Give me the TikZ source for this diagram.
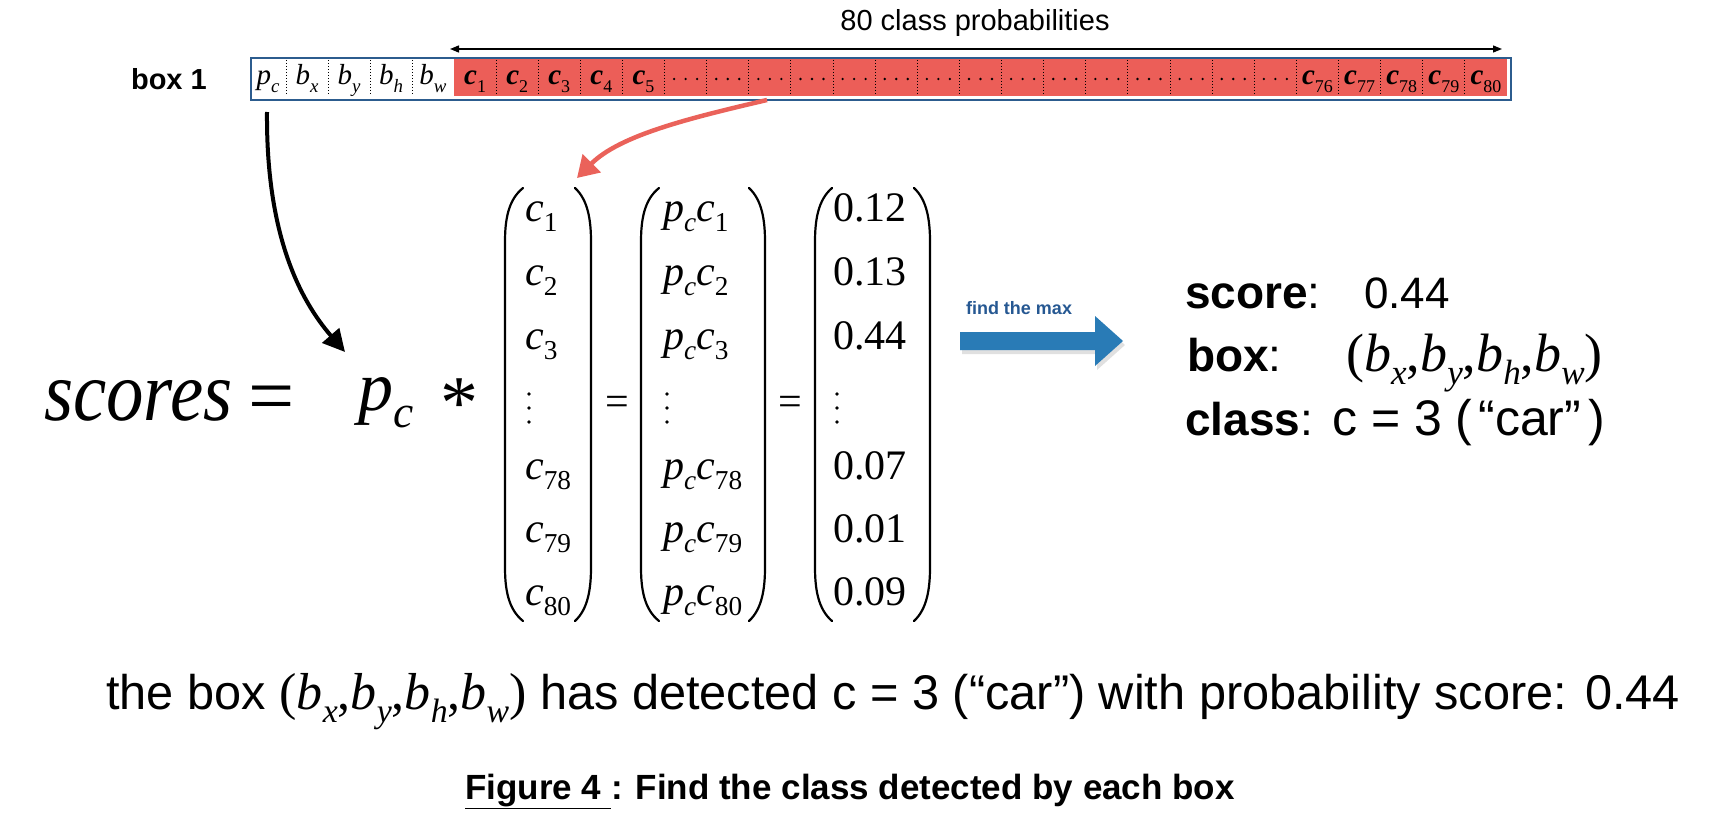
\documentclass[tikz,border=0pt]{standalone}
\usepackage{fontspec}
\setmainfont{Liberation Serif}
\setsansfont{Liberation Sans}
\newfontfamily\hv{Liberation Sans}
\usetikzlibrary{arrows.meta}
\definecolor{cellred}{RGB}{236,94,88}
\definecolor{barblue}{RGB}{44,92,142}
\definecolor{arrowred}{RGB}{234,98,90}
\definecolor{maxblue}{RGB}{41,123,182}
\definecolor{txtblue}{RGB}{38,88,146}
\newcommand{\fs}[1]{\fontsize{#1}{#1}\selectfont}
\newcommand{\Iv}[2]{\textit{#1}\raisebox{-0.25em}{\scalebox{0.65}{\textit{#2}}}}
\newcommand{\Nv}[2]{\textit{#1}\raisebox{-0.25em}{\scalebox{0.65}{#2}}}
\newcommand{\LPar}[2]{\draw[parenline] (#2,188) .. controls ({#1+3},200) and (#1,220) .. (#1,242) -- (#1,567) .. controls (#1,589) and ({#1+3},609) .. (#2,621);}
\newcommand{\RPar}[2]{\draw[parenline] (#2,188) .. controls ({#1-3},200) and (#1,220) .. (#1,242) -- (#1,567) .. controls (#1,589) and ({#1-3},609) .. (#2,621);}
\begin{document}
\begin{tikzpicture}[x=1pt,y=-1pt,
  cell/.style={minimum width=42pt,minimum height=36pt,inner sep=0pt,text height=20pt,text depth=6pt,font=\fs{29}},
  ent/.style={anchor=base west,inner sep=0pt,font=\fs{42}},
  lab/.style={anchor=base west,inner sep=0pt},
  parenline/.style={line width=2.2pt,line cap=round},
  divider/.style={line width=1pt,dash pattern=on 1.5pt off 1.5pt},
  blk/.style={line width=4pt,-{Triangle[length=22pt,width=22pt]}},
  redarr/.style={draw=arrowred,line width=4.5pt,-{Triangle[length=21pt,width=25pt]}},
  dbl/.style={line width=1.3pt,{Triangle[length=9pt,width=7pt]}-{Triangle[length=9pt,width=7pt]}}]
\useasboundingbox (0,0) rectangle (1715,832);

% ---- top bar ----
\node[anchor=base] (title) at (975,31) {\hv\fs{29}80 class probabilities};
\coordinate (pl) at (450,49);
\coordinate (pr) at (1502,49);
\draw[dbl] (pl) -- (pr);
\node[anchor=base east,inner sep=0pt] (box1) at (207,90) {\hv\bfseries\fs{29}box 1};

\fill[cellred] (454,59.5) rectangle (1507,96.5);
\node[draw=barblue,line width=2pt,minimum width=1260pt,minimum height=42pt,inner sep=0pt,anchor=north west] (bar) at (249.5,57) {};

\node[cell,minimum width=36pt] (cpc) at (268,78) {\Iv{p}{c}};
\node[cell] (cbx) at (307,78) {\Iv{b}{x}};
\node[cell] (cby) at (349,78) {\Iv{b}{y}};
\node[cell] (cbh) at (391,78) {\Iv{b}{h}};
\node[cell] (cbw) at (433,78) {\Iv{b}{w}};
\foreach \x in {286,328,370,412} \draw[divider] (\x,60) -- (\x,96);
\foreach \k in {1,...,24} \draw[divider] ({454+42.12*\k},60) -- ({454+42.12*\k},96);
\foreach \k/\n in {1/1,2/2,3/3,4/4,5/5,21/76,22/77,23/78,24/79,25/80}
  \node[cell] (cc\k) at ({454+42.12*(\k-0.5)},78) {\bfseries\itshape c\raisebox{-0.25em}{\scalebox{0.62}{\mdseries\upshape\n}}};
\foreach \k in {6,...,20} {
  \node[cell] (cc\k) at ({454+42.12*(\k-0.5)},78) {};
  \foreach \d in {-11.5,0,11.5} \fill ({454+42.12*(\k-0.5)+\d},79) circle (1.3pt);
}

% ---- connectors from the bar ----
\coordinate (rs) at (767,100);
\coordinate (re) at (577,178);
\draw[redarr] (rs) .. controls (690,118) and (620,135) .. (re);
\coordinate (bs) at (267,112);
\coordinate (be) at (345,352);
\draw[blk] (bs) .. controls (266,235) and (300,300) .. (be);

% ---- equation ----
\node[lab] (scores) at (44,420) {\scalebox{0.88}[1]{\fs{85}\itshape scores}};
\node[anchor=base,inner sep=0pt] (eq0) at (272,423) {\fs{82}=};
\node[lab] (pc) at (358,410) {\fs{70}\Iv{p}{c}};
\node[anchor=base,inner sep=0pt] (star) at (459,428) {\fs{76}*};

\LPar{505}{523}
\RPar{591}{575}
\LPar{641}{659}
\RPar{765}{749}
\LPar{815}{832}
\RPar{930}{914}

\foreach \b/\k [count=\i] in {221/1,285/2,349/3,479/78,542/79,605/80} {
  \node[ent] (ma\i) at (525,\b) {\Nv{c}{\k}};
  \node[ent] (mb\i) at (663,\b) {\Iv{p}{c}\Nv{c}{\k}};
}
\foreach \b/\v [count=\i] in {221/0.12,285/0.13,349/0.44,479/0.07,542/0.01,605/0.09}
  \node[ent] (mc\i) at (833,\b) {\v};
\foreach \x in {529,667,837} \foreach \y in {394,408,422} \fill (\x,\y) circle (1.8pt);

\node[anchor=base,inner sep=0pt] (eq1) at (617,415) {\fs{42}=};
\node[anchor=base,inner sep=0pt] (eq2) at (790,415) {\fs{42}=};

% ---- find the max ----
\node[anchor=base,text=txtblue,inner sep=0pt] (maxlbl) at (1019,314) {\hv\bfseries\fs{18}find the max};
\coordinate (ma) at (960,341);
\coordinate (mz) at (1123,341);
\fill[black,opacity=0.12] ([shift={(2,4)}]ma) ++(0,-9) -- ++(135,0) -- ++(0,-16) -- ++(28,25) -- ++(-28,25) -- ++(0,-16) -- ++(-135,0) -- cycle;
\fill[maxblue] (ma) ++(0,-9) -- ++(135,0) -- ++(0,-16) -- (mz) -- ++(-28,25) -- ++(0,-16) -- ++(-135,0) -- cycle;

% ---- result ----
\node[lab] (lscore) at (1185,308) {\hv\fs{46}\textbf{score}:};
\node[lab] (vscore) at (1364,308) {\hv\fs{44}0.44};
\node[lab] (lbox) at (1187,371) {\hv\fs{46}\textbf{box}:};
\node[lab] (vbox) at (1346,371) {\fs{54}(\Iv{b}{x},\Iv{b}{y},\Iv{b}{h},\Iv{b}{w})};
\node[lab] (lclass) at (1185,435) {\hv\fs{46}\textbf{class}:};
\node[lab] (vclass) at (1332,435) {\hv\fs{50}c = 3 (\kern6pt“car”\kern7pt)};

% ---- sentence and caption ----
\node[lab] (sent) at (106,709) {\hv\fs{48.7}the box {\rmfamily\fs{52}(\Iv{b}{x},\Iv{b}{y},\Iv{b}{h},\Iv{b}{w})} has detected c = 3 (“car”) with probability score: 0.44};
\node[anchor=base,inner sep=0pt] (cap) at (850,799) {\hv\bfseries\fs{35}\underline{Figure 4 }: Find the class detected by each box};
\end{tikzpicture}
\end{document}
